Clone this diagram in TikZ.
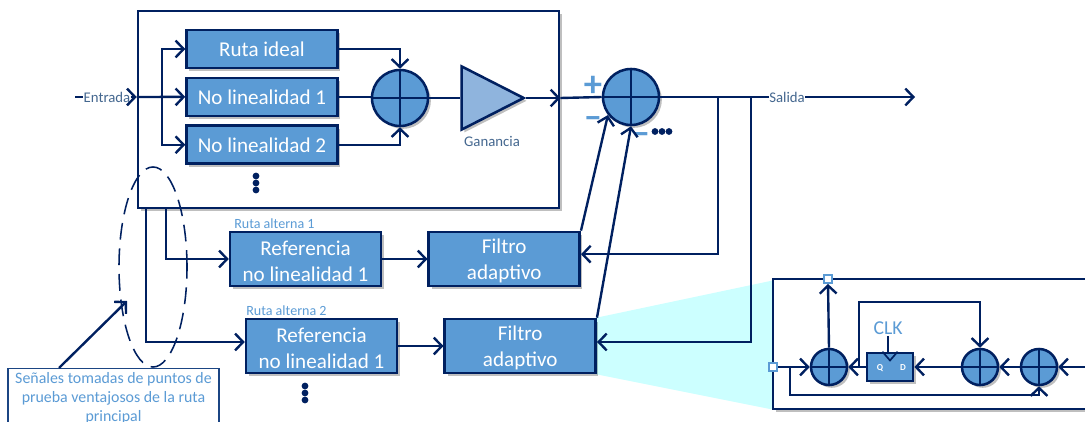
\documentclass[tikz,border=0pt]{standalone}
\usepackage{fontspec}
\setmainfont{Carlito}
\usetikzlibrary{positioning, shapes.geometric, shadows, arrows.meta}
\definecolor{navy}{HTML}{002060}
\definecolor{azul}{HTML}{5B9BD5}
\definecolor{azulclaro}{HTML}{8FB4DD}
\definecolor{gris}{HTML}{44678F}
\definecolor{cian}{HTML}{CCFFFF}
\tikzset{
	sombra/.style={
		drop shadow={shadow xshift=0.07cm, shadow yshift=-0.07cm, fill=black, opacity=0.25},
	},
	flecha/.style={
		draw=navy,
		line width=1.7pt,
		-{Straight Barb[length=0.2cm, width=0.42cm, line width=1.7pt]},
	},
	linea/.style={
		draw=navy,
		line width=1.7pt,
	},
	panel/.style={
		draw=navy,
		fill=white,
		line width=1.8pt,
		sombra,
	},
	block/.style={
		draw=navy,
		fill=azul,
		line width=1.9pt,
		text=white,
		align=center,
		minimum width=3.77cm,
		minimum height=0.95cm,
		inner sep=0pt,
		font={\fontsize{15}{18.5}\selectfont},
		sombra,
	},
	blockalto/.style={
		block,
		minimum height=1.35cm,
	},
	sumador/.style={
		circle,
		draw=navy,
		fill=azul,
		line width=1.8pt,
		minimum size=1.4cm,
		inner sep=0pt,
		sombra,
		append after command={
			(\tikzlastnode.north) edge[draw=navy, line width=1.4pt] (\tikzlastnode.south)
			(\tikzlastnode.west) edge[draw=navy, line width=1.4pt] (\tikzlastnode.east)
		},
	},
	sumadorchico/.style={
		sumador,
		minimum size=0.9cm,
	},
	punto/.style={
		circle,
		fill=navy,
		inner sep=0pt,
		minimum size=0.17cm,
	},
	puerto/.style={
		rectangle,
		draw=azul,
		fill=white,
		line width=1.3pt,
		inner sep=0pt,
		minimum size=0.2cm,
	},
	etiqueta/.style={
		text=gris,
		inner sep=1pt,
		font={\fontsize{10.5}{12}\selectfont},
	},
	ruta/.style={
		text=azul,
		inner sep=0pt,
		font={\fontsize{10}{12}\selectfont},
	},
	signo/.style={
		text=azul,
		inner sep=0pt,
		font={\fontsize{26}{26}\selectfont\bfseries},
	},
}
\begin{document}
\begin{tikzpicture}[x=0.025cm, y=-0.025cm]
	\useasboundingbox (0,0) rectangle (1085,421);
	\clip (0,0) rectangle (1085,421);

	% camino principal
	\node(principal)[panel, minimum width=10.525cm, minimum height=4.925cm] at (348.5,109.5) {};
	\node(rutaideal)[block] at (262,49) {Ruta ideal};
	\node(nolin1)[block, below=0.18cm of rutaideal] {No linealidad 1};
	\node(nolin2)[block, below=0.18cm of nolin1] {No linealidad 2};
	\foreach \i/\y in {a/176,b/183,c/190}
		\node(dotsa\i)[punto] at (256,\y) {};
	\node(sum1)[sumador] at (400,98) {};
	\node(ganancia)[isosceles triangle, isosceles triangle apex angle=54, draw=navy, fill=azulclaro, line width=1.8pt, inner sep=0pt, minimum height=1.55cm, sombra] at (481,98) {};
	\node(gananciatxt)[etiqueta] at (492,141) {Ganancia};
	\node(sum2)[sumador] at (631,97) {};

	\node(signomas)[signo] at (593,86) {+};
	\node(signomenos1)[signo] at (593,123) {–};
	\node(signomenos2)[signo] at (641,139) {–};
	\foreach \i/\x in {a/655,b/662,c/669}
		\node(dotsb\i)[punto] at (\x,131.5) {};

	\coordinate(entradaini) at (75,97);
	\coordinate(salidafin) at (915,97);
	\coordinate(rama) at (162,97);
	\coordinate(j1) at (718,97);
	\coordinate(j2) at (751,97);

	% rutas alternas
	\node(ref1)[blockalto] at (305.5,259) {\strut Referencia\\no linealidad 1};
	\node(filtro1)[blockalto, right=1.13cm of ref1] {\strut Filtro\\adaptivo};
	\node(ruta1)[ruta, anchor=west] at (234,223.5) {Ruta alterna 1};

	% zoom del filtro
	\path[fill=cian] (595,318) -- (775,280) -- (775,410) -- (595,374) -- cycle;

	\node(ref2)[blockalto] at (321.5,346) {\strut Referencia\\no linealidad 1};
	\node(filtro2)[blockalto, right=1.13cm of ref2] {\strut Filtro\\adaptivo};
	\node(ruta2)[ruta, anchor=west] at (246,311) {Ruta alterna 2};
	\foreach \i/\y in {a/386,b/393,c/400}
		\node(dotsc\i)[punto] at (305,\y) {};

	\node(entrada)[etiqueta, inner sep=0pt] at (107,97) {Entrada};
	\draw[linea] (entradaini) -- (entrada.west);
	\draw[flecha] (entrada.east) -- (principal.west |- entradaini);
	\draw[flecha] (principal.west |- entradaini) -- (nolin1.west);
	\draw[flecha] (rama) |- (rutaideal.west);
	\draw[flecha] (rama) |- (nolin2.west);
	\draw[flecha] (rutaideal.east) -| (sum1.north);
	\draw[flecha] (nolin2.east) -| (sum1.south);
	\draw[linea] (nolin1.east) -- (sum1.west |- nolin1.east);
	\draw[linea] (sum1.east) -- (ganancia.lower side);
	\draw[flecha] (ganancia.apex) -- (principal.east |- ganancia.apex);
	\draw[linea] (principal.east |- ganancia.apex) -- (sum2.west);

	\draw[flecha] (sum2.east) -- (salidafin);
	\node(salida)[etiqueta, fill=white, inner sep=0.5pt] at (787,97) {Salida};
	\draw[flecha] (j1) |- ([yshift=0.12cm]filtro1.east);
	\draw[flecha] (j2) |- ([yshift=0.1cm]filtro2.east);

	\coordinate(tap1) at (166,208);
	\coordinate(tap2) at (146,208);
	\draw[flecha] (tap1) |- (ref1.west);
	\draw[flecha] (tap2) |- ([yshift=0.1cm]ref2.west);
	\draw[flecha] (ref1.east) -- (filtro1.west);
	\draw[flecha] (ref2.east) -- (filtro2.west);
	\draw[flecha] (filtro1.north east) -- (sum2.218);
	\draw[flecha] (filtro2.north east) -- (sum2.south);

	% senales de prueba
	\node(elipse)[ellipse, draw=navy, dash pattern=on 0.42cm off 0.22cm, line width=1.1pt, minimum width=1.7cm, minimum height=5cm, inner sep=0pt] at (153,267) {};
	\node(senales)[draw=navy!70!azul, fill=white, line width=0.9pt, text=azul, align=center, minimum width=5.275cm, minimum height=1.5cm, inner sep=0pt, font={\fontsize{11.3}{13.5}\selectfont}] at (113.5,398.5) {Señales tomadas de puntos de\\prueba ventajosos de la ruta\\principal};
	\coordinate(senalesfin) at (127,301);
	\draw[flecha] ([xshift=-1.36cm]senales.north) -- (senalesfin);

	% detalle
	\node(detalle)[panel, minimum width=8.425cm, minimum height=3.25cm] at (941.5,344) {};
	\node(suma)[sumadorchico] at (829,367) {};
	\node(sumb)[sumadorchico] at (980,367) {};
	\node(sumc)[sumadorchico] at (1039,367) {};
	\node(ff)[block, minimum width=1.15cm, minimum height=0.7cm] at (890,367) {};
	\node(ffq)[text=white, inner sep=0pt, font={\fontsize{6.5}{7}\selectfont\bfseries}] at (880,368) {Q};
	\node(ffd)[text=white, inner sep=0pt, font={\fontsize{6.5}{7}\selectfont\bfseries}] at (903,368) {D};
	\node(clk)[text=azul, inner sep=0pt, minimum height=0.4cm, font={\fontsize{14}{16}\selectfont}] at (888,328) {CLK};
	\draw[linea, line width=1.2pt] ([xshift=-0.19cm]ff.north) -- ([yshift=-0.22cm]ff.north) -- ([xshift=0.19cm]ff.north);
	\draw[linea] (clk.south) -- (clk.south |- ff.north);
	\node(puerto1)[puerto] at (773,367) {};
	\node(puerto2)[puerto] at (828,279) {};
	\coordinate(derecha) at (1085,367);
	\coordinate(j3) at (859,367);
	\coordinate(j4) at (790,367);
	\draw[flecha] (puerto1.east) -- (suma.west);
	\draw[flecha] (ff.west) -- (suma.east);
	\draw[flecha] (suma.north) -- (puerto2.south);
	\draw[flecha] (j3) |- (980,302) -- (sumb.north);
	\draw[flecha] (sumb.west) -- (ff.east);
	\draw[flecha] (sumc.west) -- (sumb.east);
	\draw[flecha] (derecha) -- (sumc.east);
	\draw[flecha] (j4) |- (1039,395) -- (sumc.south);
\end{tikzpicture}
\end{document}
